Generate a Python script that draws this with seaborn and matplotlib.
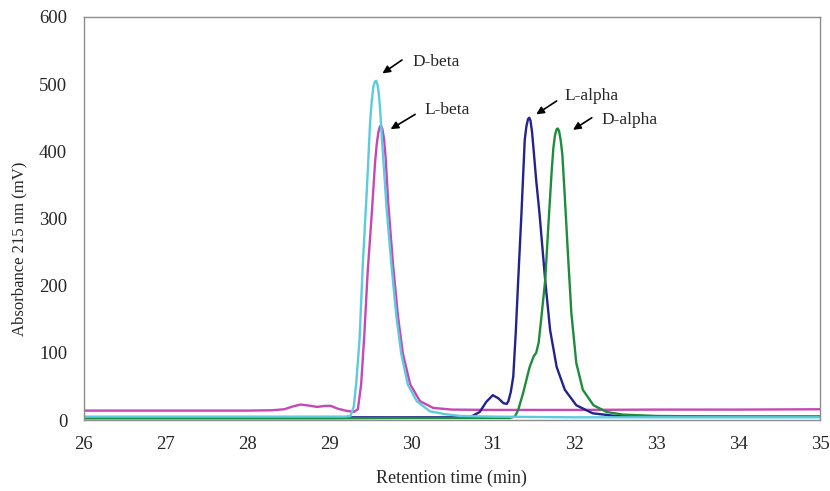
import matplotlib
matplotlib.use("Agg")
import matplotlib.pyplot as plt
import seaborn as sns
import pandas as pd

# ---- data ----
d_beta_x = [26, 27, 28, 28.5, 29, 29.2, 29.26, 29.30, 29.33, 29.37, 29.41, 29.46, 29.50, 29.52,
            29.54, 29.56, 29.575, 29.59, 29.605, 29.62, 29.65, 29.70, 29.76, 29.82, 29.88, 29.96,
            30.07, 30.23, 30.4, 30.6, 31.0, 32, 33, 34, 35]
d_beta_y = [5, 5, 5, 5, 5, 5, 6, 20, 55, 119, 231, 343, 444, 475,
            497, 504, 505, 499, 487, 466, 408, 317, 231, 155, 99, 53,
            28, 13, 9, 6, 5, 4, 4, 4, 4]

l_beta_x = [26, 27, 28, 28.3, 28.45, 28.55, 28.65, 28.75, 28.85, 28.95, 29.02, 29.1, 29.2, 29.3,
            29.35, 29.39, 29.43, 29.47, 29.52, 29.56, 29.58, 29.60, 29.62, 29.635, 29.65, 29.67,
            29.69, 29.72, 29.78, 29.84, 29.90, 29.99, 30.11, 30.27, 30.5, 31, 32, 33, 34, 35]
l_beta_y = [14, 14, 14, 14.5, 16, 20, 23, 21.5, 19.5, 21, 21, 17, 14, 12,
            16, 53, 129, 221, 307, 383, 410, 428, 437, 438, 433, 418,
            390, 325, 231, 155, 99, 53, 28, 18, 15.5, 15, 15, 15.5, 15.5, 16]

l_alpha_x = [26, 27, 28, 29, 30, 30.6, 30.75, 30.84, 30.92, 31.0, 31.07, 31.13, 31.17, 31.19,
             31.22, 31.25, 31.28, 31.31, 31.35, 31.39, 31.41, 31.43, 31.445, 31.46, 31.48, 31.50,
             31.53, 31.57, 31.64, 31.70, 31.78, 31.88, 32.02, 32.22, 32.5, 33, 34, 35]
l_alpha_y = [4, 4, 4, 4, 4, 4, 6, 12, 27, 37, 32, 25, 24, 28,
             42, 65, 130, 208, 308, 417, 437, 448, 450, 446, 428, 400,
             357, 308, 208, 134, 79, 45, 22, 10, 6, 5, 5, 5]

d_alpha_x = [26, 27, 28, 29, 30, 31, 31.2, 31.27, 31.31, 31.37, 31.45, 31.50, 31.53, 31.56,
             31.59, 31.64, 31.68, 31.72, 31.74, 31.76, 31.78, 31.795, 31.81, 31.83, 31.85, 31.88,
             31.92, 31.96, 32.02, 32.10, 32.23, 32.39, 32.59, 33, 34, 35]
d_alpha_y = [2.5, 2.5, 2.5, 2.5, 3, 3, 3, 5, 15, 40, 79, 95, 100, 115,
             149, 208, 292, 372, 405, 424, 433, 434, 430, 416, 395, 332,
             243, 159, 85, 45, 22, 12, 8, 6, 5, 5]

series_names = ["L-beta", "L-alpha", "D-alpha", "D-beta"]
series_colors = ["#C548B5", "#23238C", "#1E8C3C", "#5CCBE0"]

x_ticks = [26, 27, 28, 29, 30, 31, 32, 33, 34, 35]
y_ticks = [0, 100, 200, 300, 400, 500, 600]

# annotations: label, text position, arrow tail, arrow tip (data coords)
ann_labels = ["D-beta", "L-beta", "L-alpha", "D-alpha"]
ann_text_xy = [(30.02, 533), (30.17, 461), (31.87, 482), (32.33, 447)]
ann_tail_xy = [(29.89, 536), (30.05, 455), (31.78, 475), (32.21, 450)]
ann_tip_xy = [(29.65, 516), (29.75, 433), (31.53, 455), (31.98, 432)]

# ---- build long table ----
frames = []
for name, xs, ys in [("L-beta", l_beta_x, l_beta_y), ("L-alpha", l_alpha_x, l_alpha_y),
                     ("D-alpha", d_alpha_x, d_alpha_y), ("D-beta", d_beta_x, d_beta_y)]:
    frames.append(pd.DataFrame({"time": xs, "abs": ys, "series": name}))
df = pd.concat(frames, ignore_index=True)

sns.set_style("white")
plt.rcParams["font.family"] = ["Liberation Serif", "DejaVu Serif"]

fig = plt.figure(figsize=(8.3, 4.91), dpi=100)
ax = fig.add_axes([0.101, 0.1446, 0.887, 0.8208])

sns.lineplot(data=df, x="time", y="abs", hue="series", hue_order=series_names,
             palette=series_colors, estimator=None, sort=False, linewidth=1.7,
             legend=False, ax=ax)

ax.set_xlim(26, 35)
ax.set_ylim(0, 600)
ax.set_xticks(x_ticks)
ax.set_yticks(y_ticks)
ax.set_xticklabels([str(t) for t in x_ticks], fontsize=13.5)
ax.set_yticklabels([str(t) for t in y_ticks], fontsize=13.5)
ax.set_xlabel("Retention time (min)", fontsize=13, labelpad=12)
ax.set_ylabel("Absorbance 215 nm (mV)", fontsize=12)
ax.yaxis.set_label_coords(-0.077, 0.424)

for sp in ax.spines.values():
    sp.set_color("#8c8c8c")
    sp.set_linewidth(1.0)
ax.tick_params(axis="x", direction="inout", length=5, width=1, color="#8c8c8c", pad=9)
ax.tick_params(axis="y", direction="out", length=4, width=1, color="#8c8c8c", pad=8)

for lab, txy, tail, tip in zip(ann_labels, ann_text_xy, ann_tail_xy, ann_tip_xy):
    ax.annotate("", xy=tip, xytext=tail,
                arrowprops=dict(arrowstyle="-|>,head_length=0.45,head_width=0.22",
                                color="black", lw=1.2, shrinkA=0, shrinkB=0))
    ax.text(txy[0], txy[1], lab, fontsize=12.5, ha="left", va="center")

fig.savefig("out.png", dpi=100)
